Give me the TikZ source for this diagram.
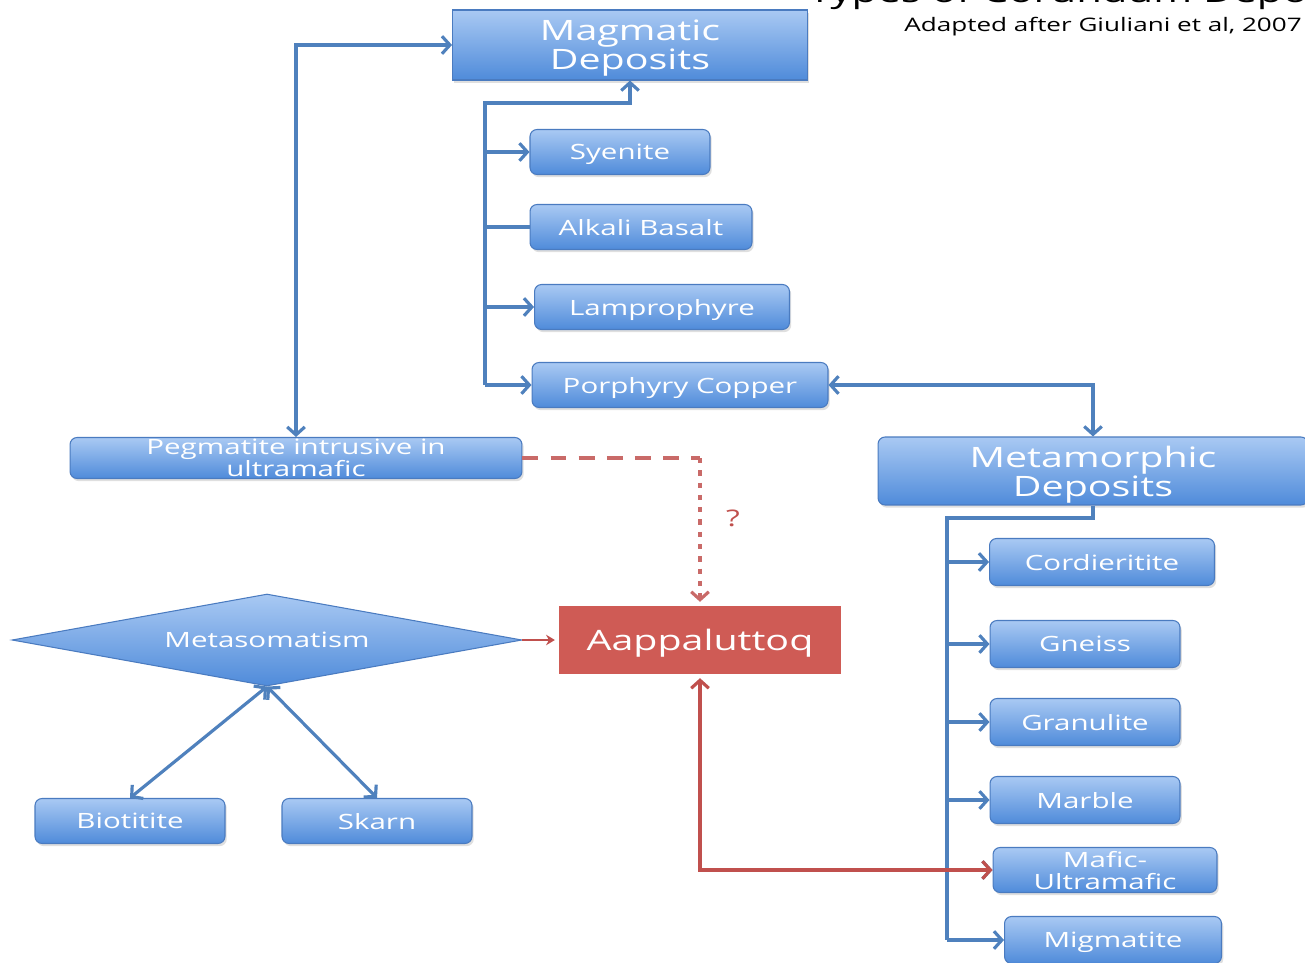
\documentclass[tikz,border=0pt]{standalone}
\usepackage{fontspec}
\setmainfont{Open Sans}[FakeStretch=1.4]
\usepackage{tikz}
\usetikzlibrary{
  arrows.meta,
  calc,
  positioning,
  shapes.geometric,
  shadows
}
\definecolor{linkblue}{HTML}{4F81BD}
\definecolor{edgeblue}{HTML}{4A7BC0}
\definecolor{boxtop}{HTML}{A9C9F3}
\definecolor{boxbot}{HTML}{4F8BDA}
\definecolor{linkred}{HTML}{C0504D}
\definecolor{boxred}{HTML}{CF5B55}
\tikzset{
  >={Straight Barb[length=4.5pt,width=10pt]},
  line cap=round,
  line join=round,
  blueline/.style={draw=linkblue, line width=1.8pt},
  redline/.style={draw=linkred, line width=1.8pt},
  rockbox/.style={rounded corners=4pt, draw=edgeblue, line width=0.6pt,
    top color=boxtop, bottom color=boxbot, text=white, align=center,
    minimum height=0.9cm, inner sep=1pt, text depth=0pt,
    font=\fontsize{12}{12.5}\selectfont,
    drop shadow={opacity=0.25, shadow xshift=1pt, shadow yshift=-1.5pt}},
  groupbox/.style={rockbox, minimum height=1.4cm, font=\fontsize{16}{16.5}\selectfont},
  sitebox/.style={draw=white, line width=2.5pt, fill=boxred, text=white,
    font=\fontsize{16}{17}\selectfont, text depth=0pt,
    drop shadow={opacity=0.3, shadow xshift=1pt, shadow yshift=-1pt}},
  processshape/.style={diamond, aspect=5.5, draw=edgeblue, line width=0.6pt,
    top color=boxtop, bottom color=boxbot, text=white, inner sep=1pt,
    font=\fontsize{12}{12.5}\selectfont}
}
\begin{document}
\begin{tikzpicture}[x=0.02cm, y=-0.02cm]
	\useasboundingbox (0,0) rectangle (1305,963);
	\clip (0,0) rectangle (1305,963);
	\fill[white] (0,0) rectangle (1305,963);

	% Title (cut off by the top edge) and source
	\node[anchor=base west, font=\fontsize{17}{18}\selectfont, inner sep=0pt] (title) at (808,3) {Types of Corundum Deposits};
	\node[anchor=east, font=\fontsize{10.6}{11}\selectfont, inner sep=0pt] (source) at (1302,27) {Adapted after Giuliani et al, 2007};

	% Magmatic branch
	\node[groupbox, sharp corners, minimum width=7.1cm] (magm) at (630,45) {Magmatic\\Deposits};
	\node[rockbox, minimum width=3.6cm] (syen) at (620,152) {Syenite};
	\node[rockbox, minimum width=4.44cm] (alkb) at (641,227) {Alkali Basalt};
	\node[rockbox, minimum width=5.1cm] (lamp) at (662,307) {Lamprophyre};
	\node[rockbox, minimum width=5.92cm] (porph) at (680,385) {Porphyry Copper};
	\node[rockbox, minimum width=9.04cm, minimum height=0.82cm] (pegm) at (296,458) {Pegmatite intrusive in\\ultramafic};

	% Metamorphic branch
	\node[groupbox, minimum width=8.6cm, minimum height=1.36cm] (meta) at (1093,471) {Metamorphic\\Deposits};
	\node[rockbox, minimum width=4.5cm, minimum height=0.94cm] (cord) at (1102,562) {Cordieritite};
	\node[rockbox, minimum width=3.8cm, minimum height=0.94cm] (gnei) at (1085,644) {Gneiss};
	\node[rockbox, minimum width=3.8cm, minimum height=0.94cm] (gran) at (1085,722) {Granulite};
	\node[rockbox, minimum width=3.8cm, minimum height=0.94cm] (marb) at (1085,800) {Marble};
	\node[rockbox, minimum width=4.48cm] (mafi) at (1105,870) {Mafic-\\Ultramafic};
	\node[rockbox, minimum width=4.34cm, minimum height=0.94cm] (migm) at (1113,940) {Migmatite};

	% Metasomatism
	\node[processshape, minimum width=10.2cm, minimum height=1.84cm] (meso) at (267,640) {Metasomatism};
	\node[rockbox, minimum width=3.8cm] (biot) at (130,821) {Biotitite};
	\node[rockbox, minimum width=3.8cm] (skar) at (377,821) {Skarn};

	% The deposit
	\node[sitebox, minimum width=5.72cm, minimum height=1.44cm] (aapp) at (700,640) {Aappaluttoq};

	% Magmatic connectors
	\coordinate (mtop) at (485,103);
	\coordinate (mbot) at (485,385);
	\draw[blueline, ->] (mbot) -- (mtop) -| (magm.south);
	\draw[blueline, ->] (syen.west -| mtop) -- (syen.west);
	\draw[blueline] (alkb.west -| mtop) -- (alkb.west);
	\draw[blueline, ->] (lamp.west -| mtop) -- (lamp.west);
	\draw[blueline, ->] (mbot) -- (porph.west);
	\draw[blueline, <->] (pegm.north) |- (magm.west);
	\draw[blueline, <->] (porph.east) -| (meta.north);

	% Metamorphic connectors
	\coordinate (dtop) at (947,518);
	\coordinate (dbot) at (947,940);
	\draw[blueline] (meta.south) |- (dtop) -- (dbot);
	\foreach \rock in {cord, gnei, gran, marb, mafi}
		\draw[blueline, ->] (\rock.west -| dtop) -- (\rock.west);
	\draw[blueline, ->] (dbot) -- (migm.west);

	% Metasomatism connectors
	\draw[blueline, <->] (meso.south) -- (biot.north);
	\draw[blueline, <->] (meso.south) -- (skar.north);
	\draw[redline, line width=1.2pt, -{Stealth[length=5pt,width=6pt]}] (meso.east) -- (aapp.west);

	% Red links
	\draw[redline, <->] (aapp.south) |- (mafi.west);
	\coordinate (qbend) at (700,458);
	\draw[redline, draw=linkred!85, dash pattern=on 9pt off 7pt] (pegm.east) -- (qbend);
	\draw[redline, draw=linkred!85, dash pattern=on 3pt off 4pt, ->] (qbend) -- (aapp.north);
	\node[text=linkred, font=\fontsize{13}{14}\selectfont] (qmark) at (733,518) {?};
\end{tikzpicture}
\end{document}
